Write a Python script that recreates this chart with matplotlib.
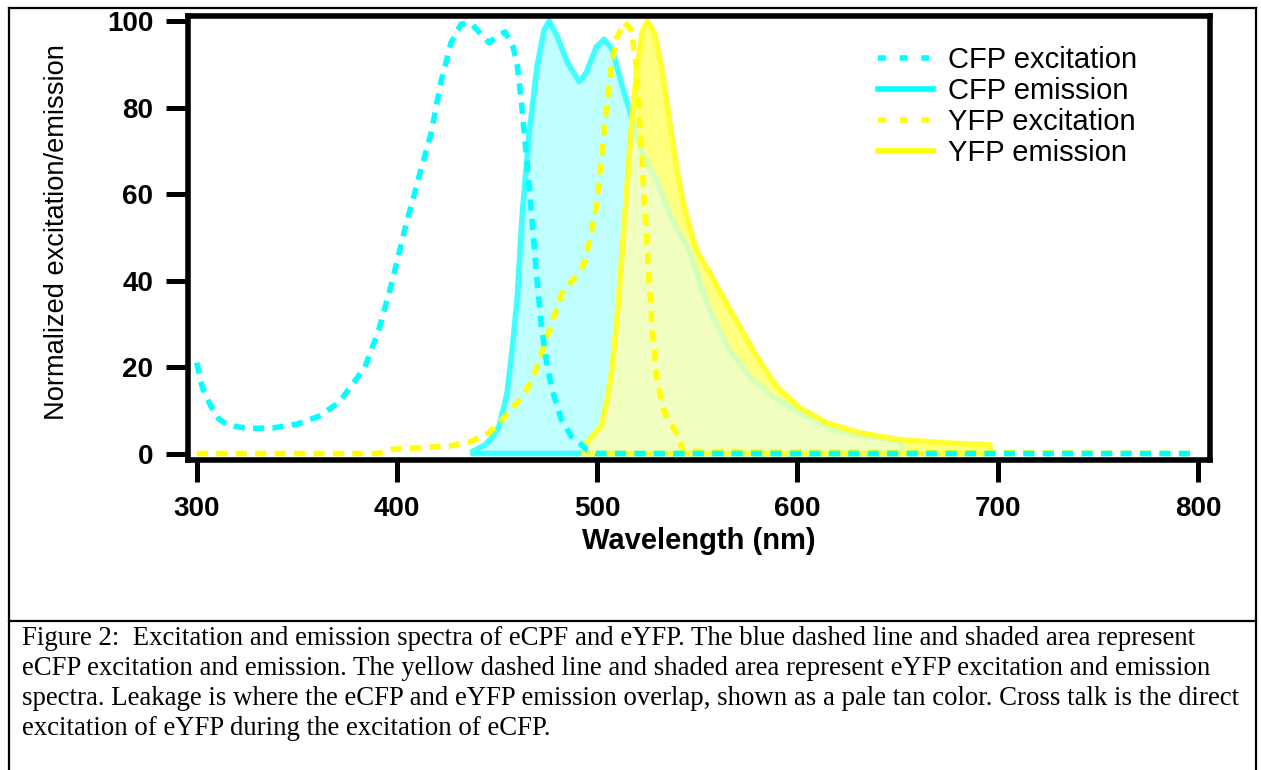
import numpy as np
import matplotlib.pyplot as plt
from matplotlib.lines import Line2D

# CFP excitation (dashed cyan)
cfp_ex_nm = [300, 303, 307, 311, 315, 320, 326, 338, 350, 361, 371, 377, 384, 391, 397,
             404, 411, 417, 422, 427, 432, 437, 441, 446, 450, 454, 458, 460, 462, 464,
             466, 468, 470, 472, 475, 478, 482, 487, 491, 495, 500, 800]
cfp_ex = [21, 15, 11, 8, 6.8, 6.2, 5.8, 5.9, 6.8, 8.6, 11.8, 15.5, 20, 28.7, 38.7,
          52, 64, 74, 86, 95, 99.3, 99.5, 97.5, 95, 96.5, 97.5, 94, 90, 82, 72,
          62, 51, 40, 30, 20, 14, 8, 4, 2.5, 0.8, 0, 0]

# CFP emission (solid cyan, shaded)
cfp_em_nm = [438, 444, 448, 451, 455, 457.5, 460, 462.5, 466, 470, 473.5, 476, 480, 485,
             491, 494.5, 499.5, 503.5, 507.5, 512.5, 517, 519.5, 524, 529.5, 537.5, 546,
             551, 557.5, 566, 576, 587.5, 601, 617.5, 634.5, 652]
cfp_em = [0.5, 2, 4, 6.3, 14, 24, 35.6, 55, 74, 89.6, 98, 100, 96.5, 90.5,
          86, 88, 94, 95.8, 93.5, 85, 78, 73.4, 68, 63.4, 54, 47,
          40, 31.7, 24, 17.8, 13.2, 9.5, 5.6, 4, 2.8]

# YFP excitation (dashed yellow)
yfp_ex_nm = [300, 390, 398, 414, 426, 437, 446, 454, 464, 470, 474.5, 478.5, 482.5, 489.5,
             493.5, 496, 499.5, 502, 504.5, 507, 509.5, 513.5, 517, 519.5, 521, 522.5,
             524.5, 526, 527.5, 530, 533.5, 539.5, 543, 800]
yfp_ex = [0, 0, 1, 1.4, 1.7, 2.8, 4.8, 8.6, 14, 20, 26.4, 31.8, 37.2, 41,
          44, 48.8, 57, 68, 79.6, 89.6, 95.8, 99.7, 98, 89.6, 78, 66.4,
          51, 39.5, 28, 16.4, 9.5, 4.8, 0.5, 0]

# YFP emission (solid yellow, shaded)
yfp_em_nm = [493.5, 497.5, 502, 505, 507.5, 510, 512.5, 515, 517.5, 520, 522.5, 525, 528.5,
             532, 534.5, 537, 539.5, 542.5, 546, 550, 556, 562.5, 571, 579.5, 589.5, 601,
             614.5, 631, 651, 676, 696, 697]
yfp_em = [1.6, 4, 6.3, 12.5, 20, 31.8, 47, 62.7, 78, 89.6, 97.4, 100, 97.4,
          89.6, 82, 74, 66.4, 58.8, 52.5, 46.5, 42, 36.4, 29.4, 22.5, 15.5, 10.6,
          7.1, 4.8, 3.2, 2.4, 2, 0]

x_ticks = [300, 400, 500, 600, 700, 800]
y_ticks = [0, 20, 40, 60, 80, 100]
labels = ["CFP excitation", "CFP emission", "YFP excitation", "YFP emission"]

caption = [
    "Figure 2:  Excitation and emission spectra of eCPF and eYFP. The blue dashed line and shaded area represent",
    "eCFP excitation and emission. The yellow dashed line and shaded area represent eYFP excitation and emission",
    "spectra. Leakage is where the eCFP and eYFP emission overlap, shown as a pale tan color. Cross talk is the direct",
    "excitation of eYFP during the excitation of eCFP.",
]

CYAN = "#00ffff"
CYAN_SOLID = "#40ffff"
YELLOW = "#ffff00"
YELLOW_SOLID = "#ffff30"
LW = 4.0
DASH = (2.0, 1.5)

W, H = 1261, 770
fig = plt.figure(figsize=(W / 100, H / 100), dpi=100)
ax = fig.add_axes([188 / W, 1 - 460 / H, 1022 / W, 444.5 / H])
ax.set_xlim(295.65, 806)
ax.set_ylim(-1.5, 101.3)

# closed outlines (curve + baseline)
cx = np.r_[cfp_em_nm, cfp_em_nm[-1], cfp_em_nm[0]]
cy = np.r_[cfp_em, 0, 0]
yx = np.r_[yfp_em_nm, yfp_em_nm[-1], yfp_em_nm[0]]
yy = np.r_[yfp_em, 0, 0]

cfp_fill = ax.fill(cx, cy, color="#c0ffff", lw=0, zorder=1)[0]
ax.plot(cx, cy, color=CYAN_SOLID, lw=LW, zorder=2, solid_joinstyle="round")
yfp_fill = ax.fill(yx, yy, color="#ffff80", lw=0, zorder=3)[0]
# leakage: overlap of both emissions
overlap = ax.fill(yx, yy, color="#f0ffc0", lw=0, zorder=3.5)[0]
overlap.set_clip_path(cfp_fill)
# CFP emission line seen through the yellow shading
under, = ax.plot(cx, cy, color="#d4ffb8", lw=LW, zorder=4, solid_joinstyle="round")
under.set_clip_path(yfp_fill)
ax.plot(yx, yy, color=YELLOW_SOLID, lw=LW, zorder=5, solid_joinstyle="round")

ax.plot(yfp_ex_nm, yfp_ex, color=YELLOW, lw=LW, dashes=DASH, zorder=6)
ax.plot(cfp_ex_nm, cfp_ex, color=CYAN, lw=LW, dashes=DASH, zorder=6)

for s in ax.spines.values():
    s.set_linewidth(4)
    s.set_zorder(10)
ax.set_xticks(x_ticks)
ax.set_yticks(y_ticks)
ax.tick_params(direction="out", length=16, width=3.6, labelsize=20)
ax.tick_params(axis="y", pad=9)
ax.tick_params(axis="x", pad=10)
for lab in ax.get_xticklabels() + ax.get_yticklabels():
    lab.set_fontweight("bold")
    lab.set_family("Liberation Sans")

ax.set_xlabel("Wavelength (nm)", fontsize=21, fontweight="bold", family="Liberation Sans")
ax.xaxis.set_label_coords(0.5, (460 - 527) / 444.5)
ax.set_ylabel("Normalized excitation/emission", fontsize=19.6, family="Liberation Sans")
ax.yaxis.set_label_coords((70 - 188) / 1022, (460 - 232) / 444.5)

handles = [
    Line2D([], [], color=CYAN, lw=LW, dashes=(1.4, 2.5)),
    Line2D([], [], color=CYAN, lw=LW),
    Line2D([], [], color=YELLOW, lw=LW, dashes=(1.4, 2.5)),
    Line2D([], [], color=YELLOW, lw=LW),
]
ax.legend(handles, labels, loc="upper left",
          bbox_to_anchor=((878 - 188) / 1022, (460 - 46) / 444.5),
          frameon=False, borderpad=0, borderaxespad=0, handlelength=1.9,
          handletextpad=0.5, labelspacing=0.1,
          prop={"family": "Liberation Sans", "size": 21})

# page border and caption box
border = dict(color="black", lw=1.6, transform=fig.transFigure, clip_on=False)
fig.add_artist(Line2D([9 / W, 1256 / W], [1 - 7.5 / H, 1 - 7.5 / H], **border))
fig.add_artist(Line2D([9 / W, 9 / W], [0, 1 - 7.5 / H], **border))
fig.add_artist(Line2D([1256 / W, 1256 / W], [0, 1 - 7.5 / H], **border))
fig.add_artist(Line2D([9 / W, 1256 / W], [1 - 621 / H, 1 - 621 / H], **border))

for i, line in enumerate(caption):
    fig.text(22 / W, 1 - (645 + 30 * i) / H, line, family="Liberation Serif",
             fontsize=19.3, va="baseline", ha="left")

fig.savefig("out.png", dpi=100)
